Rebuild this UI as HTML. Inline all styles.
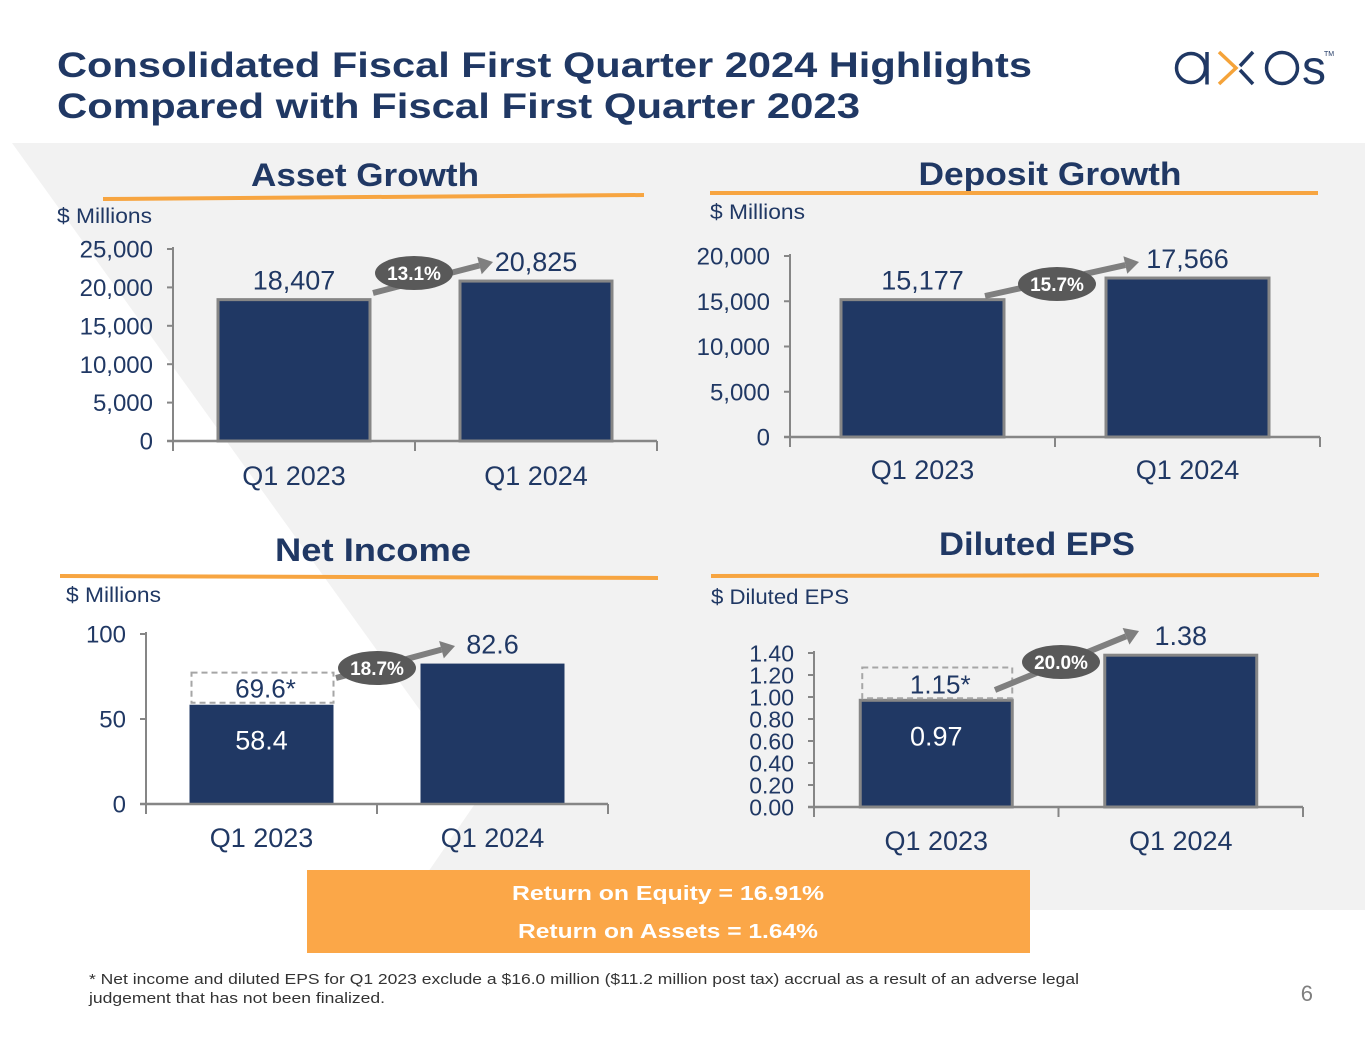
<!DOCTYPE html>
<html><head><meta charset="utf-8"><style>
html,body{margin:0;padding:0;background:#fff;}
svg{display:block;font-family:"Liberation Sans",sans-serif;}
</style></head><body>
<svg id="slide" width="1365" height="1055" viewBox="0 0 1365 1055" xmlns="http://www.w3.org/2000/svg">
<polygon points="12,143 1365,143 1365,910 402,910 481,795" fill="#f2f2f2"/>
<text x="57" y="77" font-size="35" font-weight="bold" fill="#203864" textLength="975" lengthAdjust="spacingAndGlyphs">Consolidated Fiscal First Quarter 2024 Highlights</text>
<text x="57" y="118" font-size="35" font-weight="bold" fill="#203864" textLength="803" lengthAdjust="spacingAndGlyphs">Compared with Fiscal First Quarter 2023</text>
<g>
<circle cx="1191" cy="68" r="14.5" fill="none" stroke="#203864" stroke-width="3.5"/>
<line x1="1207" y1="52" x2="1207" y2="84.5" stroke="#203864" stroke-width="3.5"/>
<polyline points="1219,52 1236,68 1219,84" fill="none" stroke="#f5a339" stroke-width="3.5"/>
<polyline points="1253,52 1240,66" fill="none" stroke="#203864" stroke-width="3.5"/>
<polyline points="1240,70 1253,84" fill="none" stroke="#203864" stroke-width="3.5"/>
<circle cx="1282" cy="68" r="15.5" fill="none" stroke="#203864" stroke-width="3.5"/>
<text x="1302" y="84" font-size="48" fill="#203864">s</text>
<text x="1324" y="56" font-size="7" fill="#203864">TM</text>
</g>
<g id="charts"></g>
<rect x="307" y="870" width="723" height="83" fill="#fba748"/>
<text x="668" y="900" font-size="20" font-weight="bold" fill="#fff" text-anchor="middle" textLength="312" lengthAdjust="spacingAndGlyphs">Return on Equity = 16.91%</text>
<text x="668" y="938" font-size="20" font-weight="bold" fill="#fff" text-anchor="middle" textLength="300" lengthAdjust="spacingAndGlyphs">Return on Assets = 1.64%</text>
<text x="89" y="984" font-size="15" fill="#333" textLength="990" lengthAdjust="spacingAndGlyphs">* Net income and diluted EPS for Q1 2023 exclude a $16.0 million ($11.2 million post tax) accrual as a result of an adverse legal</text>
<text x="89" y="1003" font-size="15" fill="#333" textLength="296" lengthAdjust="spacingAndGlyphs">judgement that has not been finalized.</text>
<text x="1313" y="1001" font-size="22" fill="#7f7f7f" text-anchor="end">6</text>
</svg>
<script>
const categories = ["Q1 2023", "Q1 2024"];
const assetValues = [18407, 20825];
const assetLabels = ["18,407", "20,825"];
const assetTicks = [0, 5000, 10000, 15000, 20000, 25000];
const assetTickLabels = ["0", "5,000", "10,000", "15,000", "20,000", "25,000"];
const assetGrowth = "13.1%";
const depositValues = [15177, 17566];
const depositLabels = ["15,177", "17,566"];
const depositTicks = [0, 5000, 10000, 15000, 20000];
const depositTickLabels = ["0", "5,000", "10,000", "15,000", "20,000"];
const depositGrowth = "15.7%";
const netIncomeValues = [58.4, 82.6];
const netIncomeLabels = ["58.4", "82.6"];
const netIncomeAdjusted = [69.6];
const netIncomeAdjustedLabels = ["69.6*"];
const netIncomeTicks = [0, 50, 100];
const netIncomeTickLabels = ["0", "50", "100"];
const netIncomeGrowth = "18.7%";
const epsValues = [0.97, 1.38];
const epsLabels = ["0.97", "1.38"];
const epsAdjusted = [1.15];
const epsAdjustedLabels = ["1.15*"];
const epsTicks = [0, 0.2, 0.4, 0.6, 0.8, 1.0, 1.2, 1.4];
const epsTickLabels = ["0.00", "0.20", "0.40", "0.60", "0.80", "1.00", "1.20", "1.40"];
const epsGrowth = "20.0%";

const NS = "http://www.w3.org/2000/svg";
const root = document.getElementById("charts");
const NAVY = "#203864";
function mk(tag, attrs, parent, txt) {
  const e = document.createElementNS(NS, tag);
  for (const k in attrs) e.setAttribute(k, attrs[k]);
  if (txt !== undefined) e.textContent = txt;
  (parent || root).appendChild(e);
  return e;
}

function drawChart(c) {
  const g = mk("g", {});
  
  
  const yScale = v => c.y0 - (v / c.max) * (c.y0 - c.yTop);
  const band = (c.xEnd - c.axisX) / categories.length;
  const bx = i => c.axisX + band * i + (band - c.barW) / 2;
  const t = mk("text", {x: c.titleX, y: c.titleY, "font-size": 32, "font-weight": "bold", fill: NAVY, "text-anchor": "middle", textLength: c.titleW, lengthAdjust: "spacingAndGlyphs"}, g, c.title);
  
  
  const ul = mk("line", {x1: c.line[0], y1: c.line[1], x2: c.line[2], y2: c.line[3], stroke: "#f7a541", "stroke-width": 4}, g);
  
  
  const u = mk("text", {x: c.unitX, y: c.unitY, "font-size": 21, fill: NAVY, textLength: c.unitW, lengthAdjust: "spacingAndGlyphs"}, g, c.unit);
  
  
  c.ticks.forEach((v, i) => {
    const y = yScale(v);
    const tk = mk("line", {x1: c.axisX - 6, y1: y, x2: c.axisX, y2: y, stroke: "#868686", "stroke-width": 2}, g);
    
    
    const tl = mk("text", {x: c.axisX - 20, y: y + c.tickFont * 0.36, "font-size": c.tickFont, fill: NAVY, "text-anchor": "end"}, g, c.tickLabels[i]);
    
    
  });
  c.values.forEach((v, i) => {
    const top = yScale(v);
    const b = mk("rect", {x: bx(i), y: top, width: c.barW, height: c.y0 - top, fill: NAVY, stroke: c.stroke ? "#868686" : "none", "stroke-width": c.stroke ? 3 : 0}, g);
    
    
    const inside = c.adjusted && i < c.adjusted.length;
    const lab = mk("text", {x: bx(i) + c.barW / 2, y: inside ? top + 45 : top - 10, "font-size": 27, fill: inside ? "#fff" : NAVY, "text-anchor": "middle"}, g, c.labels[i]);
    
    
    const cl = mk("text", {x: bx(i) + c.barW / 2, y: c.catY, "font-size": 27, fill: NAVY, "text-anchor": "middle"}, g, categories[i]);
    
    
  });
  if (c.adjusted) {
    c.adjusted.forEach((v, i) => {
      const top = yScale(v) - 13, bt = yScale(c.values[i]) - 2;
      const d = mk("rect", {x: bx(i) + 2, y: top, width: c.barW - 2, height: bt - top, fill: "none", stroke: "#a6a6a6", "stroke-width": 2, "stroke-dasharray": "6,4"}, g);
      
      
      const al = mk("text", {x: bx(i) + c.barW / 2 + 4, y: bt - 5, "font-size": 26, fill: NAVY, "text-anchor": "middle"}, g, c.adjustedLabels[i]);
      
      
    });
  }
  const ya = mk("line", {x1: c.axisX, y1: yScale(c.ticks[c.ticks.length - 1]) - 2, x2: c.axisX, y2: c.y0 + 10, stroke: "#868686", "stroke-width": 2}, g);
  
  
  const xa = mk("line", {x1: c.axisX - 6, y1: c.y0, x2: c.xEnd, y2: c.y0, stroke: "#868686", "stroke-width": 2.5}, g);
  
  
  for (let i = 1; i <= categories.length; i++) {
    const xt = mk("line", {x1: c.axisX + band * i, y1: c.y0, x2: c.axisX + band * i, y2: c.y0 + 10, stroke: "#868686", "stroke-width": 2}, g);
    
    
  }
  const a = c.arrow;
  const ang = Math.atan2(a[3] - a[1], a[2] - a[0]);
  const ax = a[2] - 14 * Math.cos(ang), ay = a[3] - 14 * Math.sin(ang);
  const ag = mk("g", {}, g);
  
  
  mk("line", {x1: a[0], y1: a[1], x2: ax, y2: ay, stroke: "#7f7f7f", "stroke-width": 6}, ag);
  const px = -Math.sin(ang) * 9, py = Math.cos(ang) * 9;
  mk("polygon", {points: `${a[2]},${a[3]} ${ax + px},${ay + py} ${ax - px},${ay - py}`, fill: "#7f7f7f"}, ag);
  mk("ellipse", {cx: c.ell[0], cy: c.ell[1], rx: 39, ry: 17, fill: "#595959"}, ag);
  mk("text", {x: c.ell[0], y: c.ell[1] + 7, "font-size": 19, "font-weight": "bold", fill: "#fff", "text-anchor": "middle"}, ag, c.growth);
}

drawChart({name: "asset-growth-chart", title: "Asset Growth", titleW: 228, titleX: 365, titleY: 186, line: [103, 199, 644, 195], unit: "$ Millions", unitW: 95, unitX: 57, unitY: 223,
  axisX: 173, xEnd: 657, y0: 441, yTop: 249, max: 25000, barW: 152, stroke: true, ticks: assetTicks, tickLabels: assetTickLabels, tickFont: 24,
  values: assetValues, labels: assetLabels, catY: 485, arrow: [373, 293, 493, 262], ell: [414, 273], growth: assetGrowth});
drawChart({name: "deposit-growth-chart", title: "Deposit Growth", titleW: 263, titleX: 1050, titleY: 185, line: [710, 193, 1318, 193], unit: "$ Millions", unitW: 95, unitX: 710, unitY: 219,
  axisX: 790, xEnd: 1320, y0: 437, yTop: 256, max: 20000, barW: 163, stroke: true, ticks: depositTicks, tickLabels: depositTickLabels, tickFont: 24,
  values: depositValues, labels: depositLabels, catY: 479, arrow: [985, 296, 1139, 262], ell: [1057, 284], growth: depositGrowth});
drawChart({name: "net-income-chart", title: "Net Income", titleW: 196, titleX: 373, titleY: 561, line: [60, 576, 658, 578], unit: "$ Millions", unitW: 95, unitX: 66, unitY: 602,
  axisX: 146, xEnd: 608, y0: 804, yTop: 634, max: 100, barW: 144, stroke: false, ticks: netIncomeTicks, tickLabels: netIncomeTickLabels, tickFont: 24,
  values: netIncomeValues, labels: netIncomeLabels, adjusted: netIncomeAdjusted, adjustedLabels: netIncomeAdjustedLabels, catY: 847, arrow: [336, 678, 455, 646], ell: [377, 668], growth: netIncomeGrowth});
drawChart({name: "diluted-eps-chart", title: "Diluted EPS", titleW: 196, titleX: 1037, titleY: 555, line: [711, 576, 1319, 575], unit: "$ Diluted EPS", unitW: 138, unitX: 711, unitY: 604,
  axisX: 814, xEnd: 1303, y0: 807, yTop: 653, max: 1.4, barW: 152, stroke: true, ticks: epsTicks, tickLabels: epsTickLabels, tickFont: 23,
  values: epsValues, labels: epsLabels, adjusted: epsAdjusted, adjustedLabels: epsAdjustedLabels, catY: 850, arrow: [995, 690, 1139, 631], ell: [1061, 662], growth: epsGrowth});
</script>
</body></html>
